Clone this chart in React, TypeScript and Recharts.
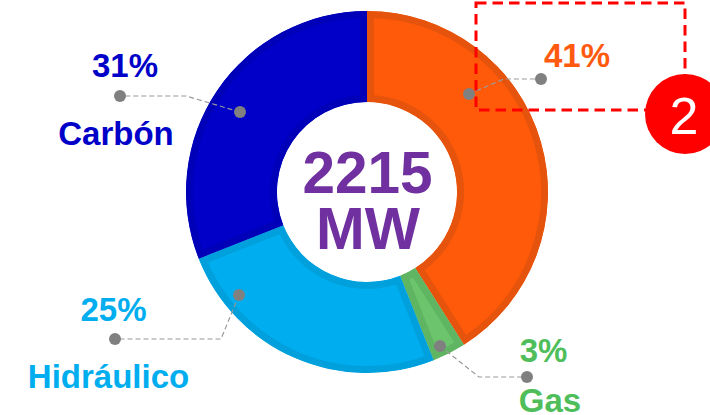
import { PieChart, Pie, Sector } from 'recharts';

const sourceNames = ['Otros', 'Gas', 'Hidráulico', 'Carbón'];
const shares = [41, 3, 25, 31];
const fills = ['#FF5A0A', '#6CC46C', '#00AEEF', '#0000C8'];
const edges = ['#E6530C', '#5FB562', '#00A0DC', '#0000B8'];

const data = sourceNames.map((name, i) => ({ name, value: shares[i], fill: fills[i], edge: edges[i] }));

// leader lines: anchor on the ring, elbow, outer dot
const leaders = [
  { points: '469,94 504,79 541,79' },
  { points: '440,346 479,377 527,377' },
  { points: '239,295 221,339 115,339' },
  { points: '240,112 186,96 120,96' },
];

const labels = [
  { text: '41%', x: 577, y: 67, color: '#FF5A0F' },
  { text: '3%', x: 543.5, y: 362, color: '#4FBE5A' },
  { text: 'Gas', x: 550, y: 412, color: '#4FBE5A' },
  { text: '25%', x: 113.5, y: 321, color: '#00AEEF' },
  { text: 'Hidráulico', x: 108.5, y: 388, color: '#00AEEF' },
  { text: '31%', x: 125, y: 77, color: '#0000C8' },
  { text: 'Carbón', x: 116, y: 145, color: '#0000C8' },
];

const FONT = 'Liberation Sans, Arial, sans-serif';

// Sector with its border kept inside the slice, by clipping a wide stroke to the slice itself
function InsetSector(props: any) {
  const id = `slice-${props.index}`;
  return (
    <g>
      <clipPath id={id}>
        <Sector {...props} stroke="none" />
      </clipPath>
      <Sector {...props} fill={props.payload.fill} stroke={props.payload.edge} strokeWidth={14} clipPath={`url(#${id})`} />
    </g>
  );
}

export default function App() {
  return (
    <div style={{ position: 'absolute', left: 0, top: 0, width: 710, height: 415, background: '#fff', overflow: 'hidden' }}>
      <PieChart width={710} height={415} margin={{ top: 0, right: 0, bottom: 0, left: 0 }}>
        <Pie
          data={data}
          dataKey="value"
          nameKey="name"
          cx={367}
          cy={192}
          innerRadius={90}
          outerRadius={181}
          startAngle={90}
          endAngle={-270}
          stroke="none"
          shape={InsetSector}
          isAnimationActive={false}
        />
      </PieChart>

      {/* annotations sit above the ring */}
      <svg width={710} height={415} style={{ position: 'absolute', left: 0, top: 0 }}>
        <text x={367.5} y={192.5} textAnchor="middle" fontFamily={FONT} fontWeight={700} fontSize={58.5} fill="#7030A0">
          2215
        </text>
        <text x={368} y={249} textAnchor="middle" fontFamily={FONT} fontWeight={700} fontSize={58.5} fill="#7030A0">
          MW
        </text>

        {leaders.map((l) => {
          const pts = l.points.split(' ').map((p) => p.split(',').map(Number));
          return (
            <g key={l.points}>
              <polyline points={l.points} fill="none" stroke="#999999" strokeWidth={1.2} strokeDasharray="5 3" />
              <circle cx={pts[0][0]} cy={pts[0][1]} r={6} fill="#808080" />
              <circle cx={pts[2][0]} cy={pts[2][1]} r={6} fill="#808080" />
            </g>
          );
        })}

        {labels.map((l) => (
          <text key={l.text} x={l.x} y={l.y} textAnchor="middle" fontFamily={FONT} fontWeight={700} fontSize={33} fill={l.color}>
            {l.text}
          </text>
        ))}

        {/* callout box and its number badge */}
        <rect x={476} y={3} width={209} height={107} fill="none" stroke="#FF0000" strokeWidth={3} strokeDasharray="10.5 6" />
        <circle cx={685} cy={114} r={40} fill="#FF0000" />
        <text x={684} y={134} textAnchor="middle" fontFamily={FONT} fontSize={52} fill="#FFFFFF">
          2
        </text>
      </svg>
    </div>
  );
}
